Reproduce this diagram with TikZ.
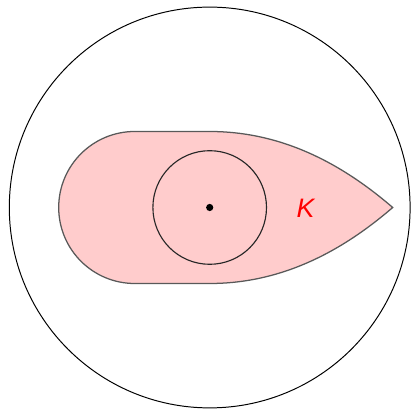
\documentclass[tikz,border=0pt]{standalone}
\usepackage{fontspec}
\setsansfont{Liberation Sans}
\usepackage{tikz}
\usetikzlibrary{positioning}

\begin{document}
\begin{tikzpicture}[
  outer/.style={draw=black, line width=0.7pt},
  body/.style={draw=black!65, line width=0.9pt, fill=red!20},
  inner/.style={draw=black!85, line width=0.8pt},
  centre/.style={circle, fill=black, inner sep=0pt, minimum size=0.18cm},
  lbl/.style={text=red, font=\sffamily\itshape\fontsize{19}{19}\selectfont}
]
\useasboundingbox (-5.2425,-5.0375) rectangle (5.0325,5.1875);

% big disc
\draw[outer] (0,0) circle (5.01);

% the convex body K
\draw[body] (-1.875,1.9) arc (90:270:1.9) -- (0,-1.9)
  .. controls (1.8,-1.9) and (3.3,-1.1) .. (4.575,0)
  .. controls (3.3,1.1) and (1.8,1.9) .. (0,1.9) -- cycle;

% inscribed circle and its centre
\node[centre] (c) at (0,0) {};
\draw[inner] (c) circle (1.42);
\node[lbl, right=1.95cm of c, yshift=-0.03cm] (k) {K};
\end{tikzpicture}
\end{document}
